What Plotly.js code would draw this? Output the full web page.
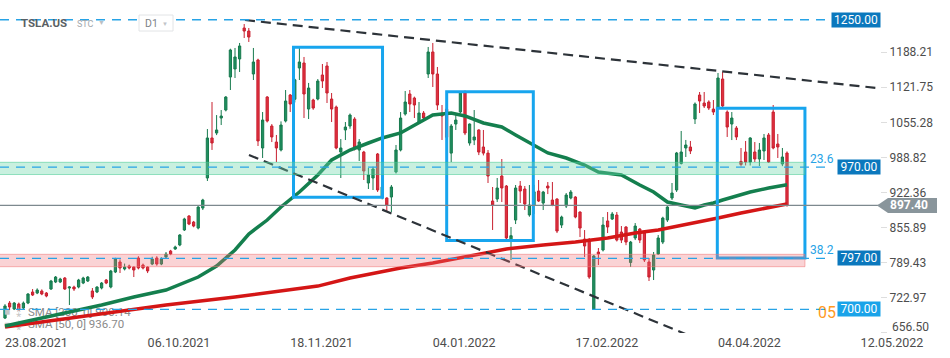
<!DOCTYPE html>
<html><head><meta charset="utf-8">
<script src="https://cdn.plot.ly/plotly-3.0.1.min.js"></script>
<style>html,body{margin:0;padding:0;background:#fff}#chart{width:950px;height:358px}</style>
</head><body><div id="chart"></div>
<script>
// ---- TSLA.US daily candles (bar index 0 = 23.08.2021) ----
const open = [683.6,712.1,700.7,710.2,702.6,712.1,733.0,731.1,734.9,731.1,738.7,752.0,752.0,759.6,740.6,742.5,742.5,750.1,753.9,734.9,
733.0,740.6,755.8,742.5,771.0,790.0,776.7,782.4,780.5,797.6,784.3,780.5,786.2,797.6,786.2,799.5,810.9,814.7,822.3,850.8,
877.3,865.9,854.5,892.5,949.5,1025.5,1034.9,1063.4,1078.6,1141.3,1156.5,1175.5,1234.3,1228.6,1147.0,1173.6,1006.5,1103.3,1048.2,1017.8,
1002.7,1057.7,1107.1,1099.0,1158.4,1167.9,1080.5,1097.6,1099.5,1145.1,1162.2,1099.5,1084.3,998.8,1040.7,1048.2,1061.5,1002.7,998.8,940.0,
949.5,995.1,914.8,911.5,913.4,960.9,1002.7,1071.0,1109.0,1101.4,1055.8,1072.9,1147.0,1188.8,1147.0,1072.9,1080.4,996.8,1052.0,1074.8,
1110.9,1015.9,1021.6,1040.7,1008.4,996.8,905.8,909.6,953.3,934.3,831.8,869.7,934.3,928.6,879.3,897.2,924.8,902.0,934.3,907.7,
909.6,860.2,896.3,911.5,913.4,884.9,833.6,831.7,700.7,809.0,812.8,867.9,871.6,879.2,846.9,856.5,789.1,835.6,852.6,845.0,
790.0,774.8,805.2,827.9,869.7,911.5,926.7,977.0,1006.5,1008.4,1061.5,1107.1,1091.9,1093.8,1080.5,1084.3,1137.5,1074.8,1052.0,1044.4,
981.0,998.9,979.9,998.9,985.6,1000.8,1031.2,1074.8,1014.1,976.1,996.9];
const high = [710.0,715.9,714.0,713.0,715.0,731.0,738.7,740.0,738.0,733.0,756.0,763.4,760.0,761.5,744.0,745.0,758.0,762.0,763.4,740.6,
744.0,752.0,757.7,775.0,798.0,795.0,787.0,785.0,782.0,801.0,787.0,782.0,800.0,801.0,799.0,809.0,813.0,821.0,843.0,874.0,
879.0,868.0,896.0,910.0,1042.5,1093.8,1069.0,1078.6,1105.0,1195.0,1196.4,1205.9,1241.9,1234.3,1196.4,1176.0,1074.8,1105.0,1051.9,1031.2,
1057.0,1116.6,1109.0,1138.0,1196.4,1179.3,1130.0,1100.0,1137.5,1166.0,1169.8,1110.9,1087.0,1023.5,1055.8,1072.0,1065.0,1023.5,1001.0,968.5,
971.0,997.0,960.7,913.0,936.2,1012.2,1074.8,1114.7,1116.6,1104.0,1093.8,1076.7,1198.3,1205.9,1160.3,1088.1,1080.9,1052.0,1071.0,1114.7,
1115.8,1053.0,1078.6,1042.0,1040.7,1002.7,932.4,949.5,985.6,936.2,856.5,936.2,943.8,934.3,936.2,936.5,945.7,925.0,941.9,941.9,
911.0,878.0,921.0,926.7,915.0,886.0,850.7,835.6,803.3,816.6,875.4,884.9,885.0,884.9,858.3,858.0,830.0,864.0,854.5,850.7,
797.6,809.0,841.3,876.0,896.0,940.0,999.0,1038.8,1021.7,1019.8,1093.0,1112.8,1112.8,1097.0,1097.6,1148.9,1150.8,1078.0,1074.8,1048.2,
1006.5,1019.8,1027.0,1017.8,1016.0,1033.1,1035.0,1088.1,1033.1,1006.5,1000.0];
const low = [681.7,698.8,698.8,697.0,700.0,710.0,725.4,729.0,727.0,723.0,737.0,750.0,750.0,737.0,708.3,735.0,740.0,748.0,752.0,719.7,
731.0,738.0,748.0,740.0,769.0,769.1,774.0,776.0,761.5,776.0,776.0,769.0,784.0,783.0,784.0,797.6,803.0,813.0,820.0,849.0,
860.0,856.0,852.0,888.7,943.8,1002.8,1031.0,1050.1,1076.0,1116.6,1139.4,1150.8,1215.3,1207.8,1135.6,1010.3,987.5,1055.0,1017.8,979.9,
1000.0,1055.0,1074.8,1093.0,1135.6,1063.4,1061.5,1079.0,1097.0,1120.4,1091.9,1055.8,1004.0,949.5,1021.6,1043.0,1002.0,981.8,945.7,928.6,
926.7,923.0,909.0,884.9,884.9,958.0,1000.0,1068.0,1074.8,1063.4,1053.0,1057.7,1139.4,1122.3,1078.6,1021.7,1010.0,979.9,1040.7,1072.0,
1031.0,1011.0,1012.0,993.0,992.4,940.0,850.8,903.9,903.9,833.0,793.8,862.1,902.0,888.7,876.0,881.2,903.9,888.7,919.0,896.0,
845.0,854.5,892.5,909.0,873.0,837.4,799.5,758.0,700.0,784.3,810.0,845.0,869.7,829.0,826.0,822.0,780.5,831.7,826.0,790.0,
753.9,755.8,803.3,824.1,866.0,907.7,923.0,975.1,989.4,995.0,1052.0,1072.9,1082.4,1078.6,1069.1,1082.0,1084.0,1027.4,1021.6,1021.6,
971.4,973.3,973.3,979.9,972.3,983.7,978.0,1004.0,987.5,972.0,895.0];
const close = [706.5,704.5,712.1,698.8,712.1,729.2,727.3,736.8,729.2,725.4,753.9,761.5,757.7,738.7,742.5,738.7,755.8,759.6,761.5,723.5,
742.5,750.1,750.1,772.9,795.7,778.6,780.5,778.6,774.8,778.6,778.6,773.0,795.7,786.2,795.7,805.2,805.2,818.5,841.3,871.7,
862.1,858.3,894.4,907.7,1025.5,1016.0,1040.7,1067.2,1103.3,1192.6,1179.3,1200.2,1228.6,1217.2,1169.8,1019.8,1059.6,1057.7,1027.4,1006.5,
1050.1,1095.7,1090.0,1136.0,1169.8,1109.0,1120.4,1082.4,1133.7,1133.7,1110.9,1080.5,1006.5,1006.5,1046.3,1069.1,1006.5,1017.8,962.8,955.2,
966.6,926.7,932.6,898.2,932.4,1002.7,1063.4,1093.8,1090.0,1088.1,1072.9,1063.4,1188.8,1147.0,1088.1,1067.2,1027.0,1048.2,1059.6,1110.9,
1034.9,1052.0,1027.4,998.8,996.8,953.3,898.2,930.5,930.5,835.6,840.0,930.5,924.8,900.1,898.2,923.3,905.8,922.9,930.5,898.2,
848.8,875.4,917.2,922.9,875.4,854.5,820.4,761.5,801.4,805.2,860.2,856.5,881.1,831.7,831.7,827.9,827.9,858.3,831.7,793.8,
761.5,803.3,835.6,873.5,894.4,921.0,997.0,998.9,1012.2,1000.8,1090.0,1095.7,1086.2,1082.4,1074.8,1139.4,1086.2,1046.3,1063.4,1027.4,
975.2,979.9,1025.5,985.6,1002.7,1025.5,979.9,1006.5,1008.4,989.4,897.4];

// ---- moving averages ----
const sma50Idx = [0,6,14,21,28,35,42,46,50,53,57,60,64,68,71,75,79,82,86,90,93,97,100,104,108,111,115,118,122,126,129,134,138,141,144,148,150,152,154,156,159,162,166,170];
const sma50Val = [668.4,679.8,695.0,708.3,723.5,736.8,761.5,782.4,812.8,843.2,869.7,894.5,922.9,955.2,983.7,1002.7,1016.0,1025.5,1035.0,1054.0,1069.2,1073.0,1067.3,1054.0,1046.4,1031.2,1012.2,997.0,987.5,974.2,960.9,955.2,936.2,922.9,903.9,896.3,892.5,898.2,902.0,907.7,915.3,922.9,930.5,936.7];
const sma200Idx = [0,11,21,35,50,68,75,86,93,100,105,109,117,124,131,137,142,150,155,160,166,170];
const sma200Val = [666.6,679.8,693.1,708.3,723.5,744.3,759.6,778.6,788.1,799.5,809.0,814.7,822.3,828.0,835.6,845.1,850.8,864.1,873.6,883.1,892.6,900.14];
const legendTexts = ['SMA [200, 0] 900.14', 'SMA [50, 0] 936.70'];

// ---- axis ticks ----
const tickIdx = [0,31,62,93,124,155,186];
const tickLabels = ['23.08.2021','06.10.2021','18.11.2021','04.01.2022','17.02.2022','04.04.2022','12.05.2022'];
const yTickVals = [656.50,722.97,789.43,855.89,922.36,988.82,1055.28,1121.75,1188.21];

// ---- drawings ----
const fibLevels = [1250, 970, 797, 700];
const fibLabels = ['1250.00','970.00','797.00','700.00'];
const fibRatios = ['', '23.6', '38.2', '05'];
const lastPrice = 897.40;
const greenZone = [956.1, 979.3];
const pinkZone = [781.1, 804.6];
const zoneEndIdx = 173.9;
const boxX0 = [62.72, 96.02, 154.85];
const boxX1 = [82.07, 114.85, 173.9];
const boxY0 = [912.8, 830.8, 797.5];
const boxY1 = [1197.7, 1113.4, 1081.9];
const upperTrendX = [52.17, 190.2], upperTrendY = [1249.5, 1119.8];
const lowerTrendX = [53.04, 151.1], lowerTrendY = [993.2, 641.9];

const FONT = 'Roboto, "Open Sans", sans-serif';
const PW = 880, PH = 333;
const xIdx = open.map((_, i) => i);

const traces = [
  {type:'candlestick', x:xIdx, open:open, high:high, low:low, close:close,
   increasing:{line:{color:'#177a4e', width:1}, fillcolor:'#1f8f5f'},
   decreasing:{line:{color:'#c8202f', width:1}, fillcolor:'#e0303f'},
   whiskerwidth:0, hoverinfo:'skip', showlegend:false},
  {type:'scatter', mode:'text', x:[0.45, 3.1, 5.0, 0.45, 3.1, 5.0], y:[693.7,693.7,693.7,670.3,670.3,670.3],
   text:['■','⁑',legendTexts[0],'■','⁑',legendTexts[1]],
   textposition:['middle center','middle center','middle right','middle center','middle center','middle right'],
   textfont:{family:FONT, size:[10,10,11.5,10,10,11.5], color:['#c4c4c4','#c4c4c4','#8a8a8a','#c4c4c4','#c4c4c4','#8a8a8a']},
   cliponaxis:false, hoverinfo:'skip', showlegend:false},
  {type:'scatter', mode:'lines', x:sma200Idx, y:sma200Val, line:{color:'#d41616', width:3.5}, hoverinfo:'skip', showlegend:false},
  {type:'scatter', mode:'lines', x:sma50Idx, y:sma50Val, line:{color:'#147f4e', width:3.5}, hoverinfo:'skip', showlegend:false}
];

const shapes = [];
for (let k = 0; k < boxX0.length; k++) {
  shapes.push({type:'rect', xref:'x', yref:'y', x0:boxX0[k], x1:boxX1[k], y0:boxY0[k], y1:boxY1[k],
    line:{color:'#17a5ee', width:3}, fillcolor:'rgba(0,0,0,0)', layer:'above'});
}
shapes.push({type:'line', xref:'x', yref:'y', x0:upperTrendX[0], x1:upperTrendX[1], y0:upperTrendY[0], y1:upperTrendY[1],
  line:{color:'#2d3339', width:2.2, dash:'10px,6px'}, layer:'above'});
shapes.push({type:'line', xref:'x', yref:'y', x0:lowerTrendX[0], x1:lowerTrendX[1], y0:lowerTrendY[0], y1:lowerTrendY[1],
  line:{color:'#2d3339', width:2.2, dash:'10px,6px'}, layer:'above'});
shapes.push({type:'line', xref:'paper', yref:'y', x0:0, x1:1, y0:lastPrice, y1:lastPrice,
  line:{color:'#7d898e', width:1.2}, layer:'above'});
shapes.push({type:'rect', xref:'x', yref:'y', x0:-2, x1:zoneEndIdx, y0:greenZone[0], y1:greenZone[1],
  fillcolor:'rgba(110,215,170,0.38)', line:{color:'rgba(70,200,145,0.55)', width:1}, layer:'above'});
shapes.push({type:'rect', xref:'x', yref:'y', x0:-2, x1:zoneEndIdx, y0:pinkZone[0], y1:pinkZone[1],
  fillcolor:'rgba(240,110,115,0.30)', line:{color:'rgba(240,120,120,0.55)', width:1}, layer:'above'});
fibLevels.forEach(lv => shapes.push({type:'line', xref:'paper', yref:'y', x0:0, x1:832/PW, y0:lv, y1:lv,
  line:{color:'#27a3e6', width:1.3, dash:'9px,7px'}, layer:'above'}));
shapes.push({type:'rect', xref:'paper', yref:'paper', x0:139/PW, x1:173/PW, y0:1-31/PH, y1:1-15/PH,
  line:{color:'#e2e4e6', width:1}, fillcolor:'#ffffff', layer:'above'});
shapes.push({type:'path', xref:'paper', xsizemode:'pixel', xanchor:1, yref:'y', ysizemode:'pixel', yanchor:lastPrice,
  path:'M -3 0 L 8 7.5 L 57 7.5 L 57 -7.5 L 8 -7.5 Z', fillcolor:'#89959b', line:{width:0}, layer:'above'});

const annotations = [];
fibLevels.forEach((lv, k) => {
  annotations.push({xref:'paper', yref:'y', x:881/PW, y:lv, xanchor:'right', yanchor:'middle',
    text:fibLabels[k], showarrow:false, font:{family:FONT, size:12, color:'#ffffff'},
    bgcolor: k === 3 ? '#1aa3e9' : '#0b78bd', borderpad:2, width: fibLabels[k].length > 6 ? 44 : 38, height:10});
  if (fibRatios[k] === '05') {
    annotations.push({xref:'paper', yref:'y', x:838/PW, y:lv, xanchor:'right', yanchor:'middle', yshift:-3,
      text:fibRatios[k], showarrow:false, font:{family:FONT, size:16, color:'#ff9a1f'}});
  } else if (fibRatios[k]) {
    annotations.push({xref:'paper', yref:'y', x:808/PW, y:lv, xanchor:'left', yanchor:'bottom', yshift:-1,
      text:fibRatios[k], showarrow:false, font:{family:FONT, size:12, color:'#27a3e6'}});
  }
});
annotations.push({xref:'paper', yref:'y', x:888/PW, y:lastPrice, xanchor:'left', yanchor:'middle',
  text:'<b>' + lastPrice.toFixed(2) + '</b>', showarrow:false, font:{family:FONT, size:12, color:'#ffffff'}});
annotations.push({xref:'paper', yref:'paper', x:890/PW, y:1-327/PH, xanchor:'left', yanchor:'middle',
  text:yTickVals[0].toFixed(2), showarrow:false, font:{family:FONT, size:12, color:'#4d4d4d'}});
annotations.push({xref:'paper', yref:'paper', x:19/PW, y:1-23/PH, xanchor:'left', yanchor:'middle',
  text:'<b>TSLA.US</b>', showarrow:false, font:{family:FONT, size:11.5, color:'#5a5f64'}});
annotations.push({xref:'paper', yref:'paper', x:75/PW, y:1-24.5/PH, xanchor:'left', yanchor:'middle',
  text:'STC', showarrow:false, font:{family:FONT, size:9, color:'#a3a8ad'}});
annotations.push({xref:'paper', yref:'paper', x:101.5/PW, y:1-23/PH, xanchor:'center', yanchor:'middle',
  text:'▼', showarrow:false, font:{family:FONT, size:7, color:'#bcc0c4'}});
annotations.push({xref:'paper', yref:'paper', x:143/PW, y:1-23.5/PH, xanchor:'left', yanchor:'middle',
  text:'D1', showarrow:false, font:{family:FONT, size:10.5, color:'#7d8287'}});
annotations.push({xref:'paper', yref:'paper', x:165/PW, y:1-23.5/PH, xanchor:'center', yanchor:'middle',
  text:'▼', showarrow:false, font:{family:FONT, size:6, color:'#c0c4c8'}});

const layout = {
  width:950, height:358,
  margin:{l:0, r:950-PW, t:0, b:358-PH},
  paper_bgcolor:'#ffffff', plot_bgcolor:'#ffffff',
  showlegend:false, dragmode:false,
  font:{family:FONT, color:'#4d4d4d', size:12},
  xaxis:{range:[-1.087, 190.217], rangeslider:{visible:false}, showgrid:false, zeroline:false, showline:false,
    tickmode:'array', tickvals:tickIdx, ticktext:tickLabels, ticks:'', ticklabelposition:'outside right',
    tickfont:{family:FONT, size:12.5, color:'#4d4d4d'}, fixedrange:true},
  yaxis:{side:'right', range:[655.2, 1287.5], showgrid:false, zeroline:false, showline:false,
    tickmode:'array', tickvals:yTickVals, ticktext:yTickVals.map((v, i) => i === 0 ? '' : v.toFixed(2)),
    ticks:'outside', ticklen:6, tickcolor:'#dedede', tickwidth:1,
    tickfont:{family:FONT, size:12, color:'#4d4d4d'}, fixedrange:true},
  shapes:shapes, annotations:annotations
};

Plotly.newPlot('chart', traces, layout, {staticPlot:true, displayModeBar:false});
</script>
</body></html>
